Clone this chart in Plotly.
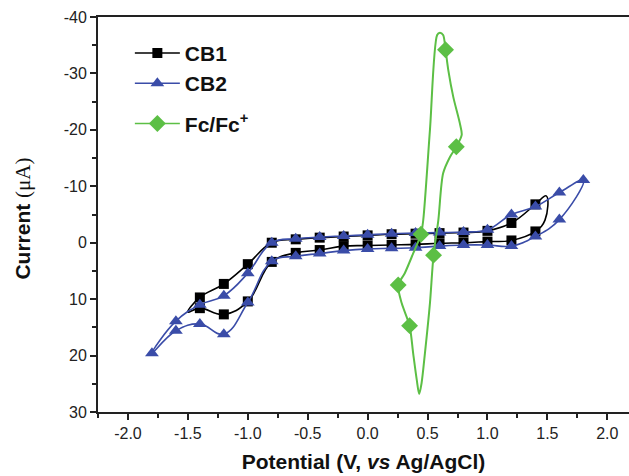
import plotly.graph_objects as go

# ---------------- data ----------------
# CB1 (black squares)
cb1_up_v = [-1.4, -1.2, -1.0, -0.8, -0.6, -0.4, -0.2, 0.0, 0.2, 0.4, 0.6, 0.8, 1.0, 1.2, 1.4]
cb1_up_i = [9.7, 7.3, 3.8, 0.0, -0.6, -0.9, -1.1, -1.3, -1.5, -1.6, -1.7, -1.8, -2.1, -3.5, -6.8]
cb1_lo_v = [1.4, 1.2, 1.0, 0.8, 0.6, 0.4, 0.2, 0.0, -0.2, -0.4, -0.6, -0.8, -1.0, -1.2, -1.4]
cb1_lo_i = [-2.0, -0.4, -0.2, 0.0, 0.1, 0.3, 0.4, 0.5, 0.6, 1.3, 1.8, 3.4, 10.4, 12.7, 11.6]
cb1_right_turn_v = [1.49, 1.48]
cb1_right_turn_i = [-8.3, -4.0]
cb1_left_turn_v = [-1.5]
cb1_left_turn_i = [12.3]

# CB2 (blue triangles)
cb2_up_v = [-1.8, -1.6, -1.4, -1.2, -1.0, -0.8, -0.6, -0.4, -0.2, 0.0,
            0.2, 0.4, 0.6, 0.8, 1.0, 1.2, 1.4, 1.6, 1.8]
cb2_up_i = [19.6, 13.9, 11.0, 9.4, 5.4, 0.0, -0.7, -1.0, -1.2, -1.4,
            -1.6, -1.7, -1.8, -1.9, -2.3, -5.0, -6.4, -8.9, -11.1]
cb2_lo_v = [1.6, 1.4, 1.2, 1.0, 0.8, 0.6, 0.4, 0.2, 0.0, -0.2,
            -0.4, -0.6, -0.8, -1.0, -1.2, -1.4, -1.6]
cb2_lo_i = [-4.1, -1.1, 0.6, 0.4, 0.4, 0.6, 0.9, 1.0, 1.1, 1.4,
            1.9, 2.4, 3.3, 10.6, 16.2, 14.4, 15.6]

# Fc/Fc+ (green diamonds): traced curve and marker points
fc_curve_v = [0.43, 0.41, 0.38, 0.35, 0.284, 0.255, 0.31, 0.38, 0.445, 0.464,
              0.52, 0.58, 0.603, 0.63, 0.65, 0.673, 0.715, 0.77, 0.785, 0.74,
              0.687, 0.63, 0.59, 0.55, 0.52, 0.478, 0.45, 0.43]
fc_curve_i = [26.8, 24.3, 19.6, 14.7, 10.7, 7.5, 5.4, 1.9, -1.5, -4.0,
              -20.0, -36.8, -37.2, -36.8, -34.2, -30.6, -25.8, -21.1, -19.1, -17.0,
              -15.2, -12.3, -4.0, 2.2, 10.7, 19.6, 24.9, 26.8]
fc_mark_v = [0.255, 0.35, 0.445, 0.55, 0.65, 0.74]
fc_mark_i = [7.5, 14.7, -1.5, 2.2, -34.2, -17.0]

series_names = ["CB1", "CB2", "Fc/Fc<sup>+</sup>"]
x_tickvals = [-2.0, -1.5, -1.0, -0.5, 0.0, 0.5, 1.0, 1.5, 2.0]
x_ticktext = ["-2.0", "-1.5", "-1.0", "-0.5", "0.0", "0.5", "1.0", "1.5", "2.0"]
y_tickvals = [-40, -30, -20, -10, 0, 10, 20, 30]
y_ticktext = ["-40", "-30", "-20", "-10", "0", "10", "20", "30"]

# ---------------- styling ----------------
BLACK = "#000000"
BLUE = "#3a4ca8"
GREEN = "#5cbf45"
FONT = "Liberation Sans, Arial, sans-serif"
SQ, TRI, DIA = 10, 12, 13

fig = go.Figure()

# CB1 line (closed loop)
cb1_path_v = cb1_up_v + cb1_right_turn_v + cb1_lo_v + cb1_left_turn_v + cb1_up_v[:1]
cb1_path_i = cb1_up_i + cb1_right_turn_i + cb1_lo_i + cb1_left_turn_i + cb1_up_i[:1]
fig.add_trace(go.Scatter(x=cb1_path_v, y=cb1_path_i, mode="lines",
                         line=dict(color=BLACK, width=1.6, shape="spline", smoothing=1.2),
                         showlegend=False, hoverinfo="skip"))
fig.add_trace(go.Scatter(x=cb1_up_v + cb1_lo_v, y=cb1_up_i + cb1_lo_i, mode="markers",
                         marker=dict(symbol="square", size=SQ, color=BLACK),
                         showlegend=False))

# CB2 line (closed loop)
cb2_path_v = cb2_up_v + cb2_lo_v + cb2_up_v[:1]
cb2_path_i = cb2_up_i + cb2_lo_i + cb2_up_i[:1]
fig.add_trace(go.Scatter(x=cb2_path_v, y=cb2_path_i, mode="lines",
                         line=dict(color=BLUE, width=1.6, shape="spline", smoothing=1.2),
                         showlegend=False, hoverinfo="skip"))
fig.add_trace(go.Scatter(x=cb2_up_v + cb2_lo_v, y=cb2_up_i + cb2_lo_i, mode="markers",
                         marker=dict(symbol="triangle-up", size=TRI, color=BLUE),
                         showlegend=False))

# Fc/Fc+
fig.add_trace(go.Scatter(x=fc_curve_v, y=fc_curve_i, mode="lines",
                         line=dict(color=GREEN, width=2, shape="spline", smoothing=0.8),
                         showlegend=False, hoverinfo="skip"))
fig.add_trace(go.Scatter(x=fc_mark_v, y=fc_mark_i, mode="markers",
                         marker=dict(symbol="diamond", size=DIA, color=GREEN),
                         showlegend=False))

# legend entries
for name, col, sym, sz, grp in zip(series_names, [BLACK, BLUE, GREEN],
                                   ["square", "triangle-up", "diamond"], [SQ, TRI, DIA],
                                   ["cb", "cb", "fc"]):
    fig.add_trace(go.Scatter(x=[None], y=[None], mode="lines+markers", name=name,
                             line=dict(color=col, width=1.6),
                             marker=dict(symbol=sym, size=sz, color=col),
                             legendgroup=grp))

axis_common = dict(
    showline=True, linecolor="#222222", linewidth=2,
    ticks="outside", ticklen=6, tickwidth=1.5, tickcolor="#222222",
    showgrid=False, zeroline=False,
    tickfont=dict(family=FONT, size=16, color="#222222"),
)

fig.update_xaxes(range=[-2.25, 2.181], tickmode="array", tickvals=x_tickvals,
                 ticktext=x_ticktext, mirror=True,
                 minor=dict(ticks="outside", ticklen=4, tickwidth=1.5, dtick=0.25,
                            tick0=0, tickcolor="#222222", showgrid=False),
                 title=dict(text="<b>Potential (V, <i>vs</i> Ag/AgCl)</b>",
                            font=dict(family=FONT, size=21, color="#111111"),
                            standoff=13),
                 **axis_common)
fig.update_yaxes(range=[30, -40], tickmode="array", tickvals=y_tickvals,
                 ticktext=y_ticktext, mirror=False,
                 minor=dict(ticks="outside", ticklen=4, tickwidth=1.5, dtick=5,
                            tick0=0, tickcolor="#222222", showgrid=False),
                 **axis_common)

fig.add_annotation(
    text="<b>Current </b><span style=\"font-family:'Liberation Serif';font-weight:normal\">(μA)</span>",
    xref="paper", yref="paper", x=-0.141, y=0.49, textangle=-90,
    showarrow=False, xanchor="center", yanchor="middle",
    font=dict(family=FONT, size=21, color="#111111"))

fig.update_layout(
    width=629, height=476,
    margin=dict(l=98, r=0, t=17, b=64),
    paper_bgcolor="white", plot_bgcolor="white",
    showlegend=True,
    legend=dict(x=0.06, y=0.96, xanchor="left", yanchor="top",
                bgcolor="rgba(0,0,0,0)", tracegroupgap=10, itemwidth=45,
                font=dict(family=FONT, size=21, color="#111111", weight="bold")),
)

fig.write_html("out.html")
